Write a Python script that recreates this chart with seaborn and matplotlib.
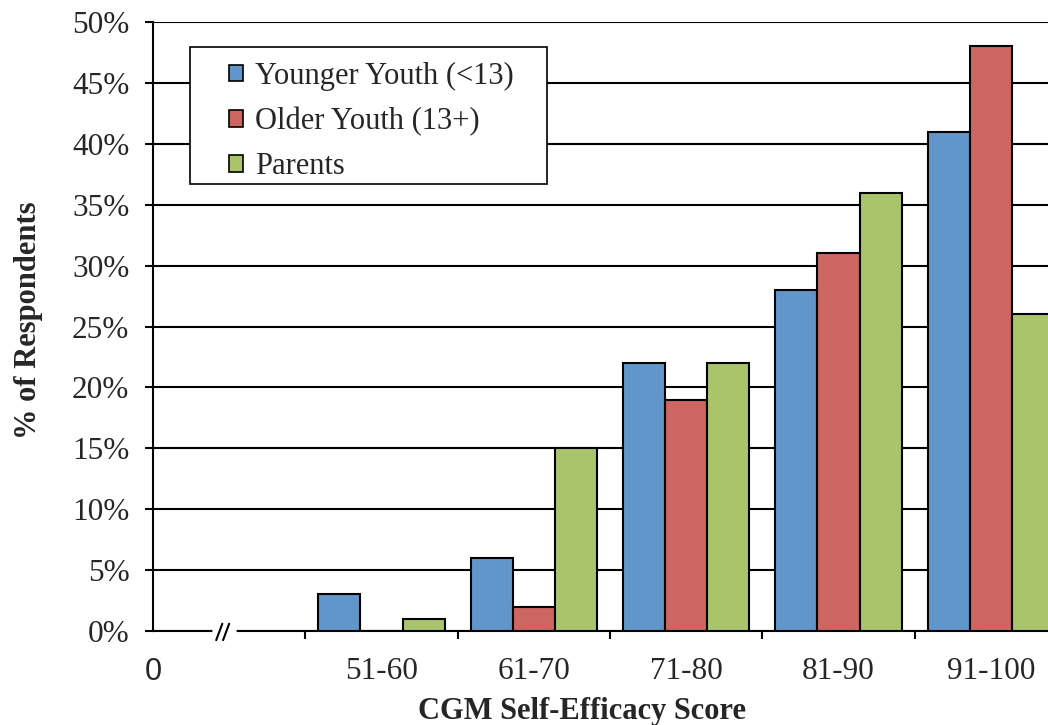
import matplotlib
matplotlib.use("Agg")
import matplotlib.pyplot as plt
import matplotlib.transforms as mtransforms
from matplotlib.patches import Rectangle
import seaborn as sns
import pandas as pd

# Score bands (first slot is the empty "0" region before the axis break)
categories = ["", "51-60", "61-70", "71-80", "81-90", "91-100"]
groups = ["Younger Youth (<13)", "Older Youth (13+)", "Parents"]
younger = [3, 6, 22, 28, 41]
older = [0, 2, 19, 31, 48]
parents = [1, 15, 22, 36, 26]
palette = ["#6096C9", "#CD6661", "#AAC46B"]

rows = []
for grp, vals in zip(groups, [younger, older, parents]):
    for cat, v in zip(categories[1:], vals):
        rows.append({"band": cat, "group": grp, "pct": v})
df = pd.DataFrame(rows)

sns.set_theme(style="white")
plt.rcParams["font.family"] = ["Liberation Serif", "DejaVu Serif"]
plt.rcParams["font.size"] = 22

TICK_FS = 22.5
LABEL_FS = 22

fig = plt.figure(figsize=(10.48, 7.25), dpi=100)
W, H = 1048, 725
left, right, top, bottom = 153, 1067, 22, 631
ax = fig.add_axes([left / W, 1 - bottom / H, (right - left) / W, (bottom - top) / H])

sns.barplot(data=df, x="band", y="pct", hue="group", order=categories,
            hue_order=groups, palette=palette, width=0.83, saturation=1,
            edgecolor="black", linewidth=1.5, ax=ax, legend=True, zorder=3)

ax.set_xlim(-0.5, 5.5)
ax.set_ylim(0, 50)
ax.set_yticks(range(0, 51, 5))
ax.set_yticklabels([f"{v}%" for v in range(0, 51, 5)], fontsize=TICK_FS)
ax.yaxis.grid(True, color="black", linewidth=1.5, zorder=0)
ax.set_axisbelow(True)

# Category labels centred in each slot, tick marks on slot boundaries
ax.set_xticks(range(1, 6))
ax.set_xticklabels(categories[1:], fontsize=TICK_FS)
ax.tick_params(axis="x", which="major", length=0, pad=19)
ax.set_xticks([i + 0.5 for i in range(0, 6)], minor=True)
ax.tick_params(axis="x", which="minor", length=6, width=1.5, direction="out",
               color="black", bottom=True)
ax.tick_params(axis="y", length=6, width=1.5, direction="out", color="black",
               left=True, pad=11)

for side in ["top", "right"]:
    ax.spines[side].set_visible(False)
for side in ["left", "bottom"]:
    ax.spines[side].set_color("black")
    ax.spines[side].set_linewidth(1.5)

trans = mtransforms.blended_transform_factory(ax.transData, ax.transAxes)

# Origin label
ax.text(-0.5, -0.043, "0", transform=trans, ha="center", va="top",
        fontsize=22, family="Liberation Sans")

# Axis break marker on the x axis
ax.plot([-0.095, 0.035], [0, 0], color="white", linewidth=4, transform=trans,
        clip_on=False, zorder=10)
for x0 in [-0.085, -0.04]:
    ax.plot([x0, x0 + 0.04], [-0.015, 0.012], color="black", linewidth=1.5,
            transform=trans, clip_on=False, zorder=11)

ax.set_xlabel("")
ax.set_ylabel("")
fig.text(582 / W, 1 - 711 / H, "CGM Self-Efficacy Score", ha="center", va="center",
         fontsize=LABEL_FS, fontweight="bold")
fig.text(29 / W, 1 - 320 / H, "% of Respondents", ha="center", va="center",
         rotation=90, fontsize=LABEL_FS, fontweight="bold")

# Legend box
ax.add_patch(Rectangle((190 / W, 1 - 184 / H), (547 - 190) / W, (184 - 47) / H,
                       transform=fig.transFigure, facecolor="white",
                       edgecolor="black", linewidth=1.2, zorder=15, clip_on=False))
px = LABEL_FS * 100 / 72
leg = ax.legend(loc="upper left",
                bbox_to_anchor=(229 / W, 1 - 62 / H),
                bbox_transform=fig.transFigure,
                frameon=False, fontsize=LABEL_FS, handlelength=14 / px,
                handleheight=14 / px, handletextpad=12 / px, borderpad=0,
                labelspacing=0.52, borderaxespad=0)
for h in leg.legend_handles:
    h.set_edgecolor("black")
    h.set_linewidth(1.2)
leg.set_zorder(20)

fig.savefig("out.png", dpi=100)
